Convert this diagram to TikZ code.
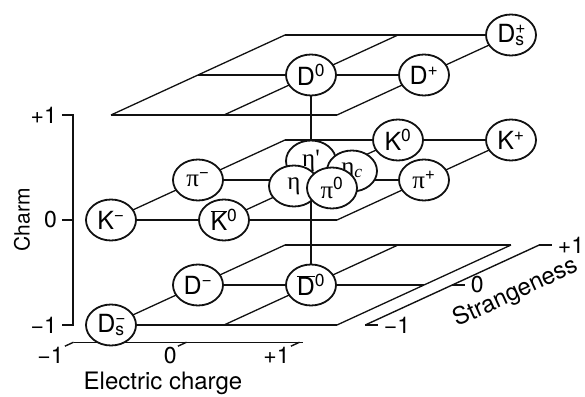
\documentclass[tikz,border=0pt]{standalone}
\usepackage{fontspec}
\setmainfont{TeX Gyre Heros}
\newfontfamily\greekfont{Liberation Serif}
\usepackage{tikz}
\usetikzlibrary{shapes.geometric,positioning,calc,backgrounds}
\definecolor{ink}{HTML}{111111}
\newcommand{\barred}[1]{$\overline{\mbox{#1}}$}
\newcommand{\gr}[1]{{\greekfont #1}}
\tikzset{
  meson/.style={draw=ink, ellipse, line width=1.8pt, fill=white, inner sep=0pt, minimum width=50pt, minimum height=41pt, font=\fontsize{25}{28}\selectfont},
  gridline/.style={draw=ink, line width=1.3pt},
  axisline/.style={draw=ink, line width=1.4pt},
  ticklabel/.style={font=\fontsize{23}{25}\selectfont, inner sep=1pt},
  axislabel/.style={font=\fontsize{24}{26}\selectfont}
}

\begin{document}
\begin{tikzpicture}[x={(113pt,0pt)}, y={(87pt,40pt)}, z={(0pt,105pt)}]
  \useasboundingbox (-311pt,-216pt) rectangle (274pt,180pt);

  % charm +1
  \node[meson] (dzero) at (0,0,1) {D\textsuperscript{0}};
  \node[meson] (dplus) at (1,0,1) {D\textsuperscript{+}};
  \node[meson] (dsplus) at (1,1,1) {D\rlap{\textsuperscript{+}}\textsubscript{s}};

  % charm 0
  \node[meson] (kminus) at (-1,-1,0) {K\textsuperscript{−}};
  \node[meson] (kzerobar) at (0,-1,0) {\barred{K}\textsuperscript{0}};
  \node[meson] (piminus) at (-1,0,0) {\gr{π}\textsuperscript{−}};
  \node[meson] (piplus) at (1,0,0) {\gr{π}\textsuperscript{+}};
  \node[meson] (kzero) at (0,1,0) {K\textsuperscript{0}};
  \node[meson] (kplus) at (1,1,0) {K\textsuperscript{+}};
  \node[meson] (etaprime) at (0pt,19pt) {\gr{η'}};
  \node[meson] (etac) at (41pt,9pt) {\gr{η\textsubscript{\itshape c}}};
  \node[meson] (eta) at (-17pt,-6pt) {\gr{η}};
  \node[meson] (pizero) at (21pt,-8pt) {\gr{π}\textsuperscript{0}};

  % charm -1
  \node[meson] (dsminus) at (-1,-1,-1) {D\rlap{\textsuperscript{−}}\textsubscript{s}};
  \node[meson] (dminus) at (-1,0,-1) {D\textsuperscript{−}};
  \node[meson] (dzerobar) at (0,0,-1) {\barred{D}\textsuperscript{0}};

  % axes
  \coordinate (ctop) at ($(-1,-1,1)+(-38pt,0pt)$);
  \coordinate (cmid) at ($(-1,-1,0)+(-38pt,0pt)$);
  \coordinate (cbot) at ($(-1,-1,-1)+(-38pt,0pt)$);
  \draw[axisline] ([xshift=-11pt]ctop) -- (ctop) -- (cbot) -- ([xshift=-11pt]cbot);
  \draw[axisline] ([xshift=-11pt]cmid) -- (cmid);
  \node[ticklabel, left=4pt] (cplusone) at ([xshift=-11pt]ctop) {+1};
  \node[ticklabel, left=4pt] (czero) at ([xshift=-11pt]cmid) {0};
  \node[ticklabel, left=4pt] (cminusone) at ([xshift=-11pt]cbot) {−1};
  \node[axislabel, font=\fontsize{21}{24}\selectfont, rotate=90] (charmlabel) at ($(cmid)+(-51pt,0pt)$) {Charm};

  \node[ticklabel, anchor=north east] (qminusone) at (-1,-1.53,-1) {−1};
  \node[ticklabel, anchor=north east] (qzero) at (0,-1.53,-1) {0};
  \node[ticklabel, anchor=north east] (qplusone) at (1,-1.53,-1) {+1};
  \node[axislabel] (chargelabel) at (-148pt,-203pt) {Electric charge};

  \draw[axisline] (1.25,-1,-1) -- (1.25,1,-1);
  \foreach \s in {-1,0,1}
    \draw[axisline] (1.25,\s,-1) -- (1.36,\s,-1);
  \node[ticklabel, anchor=west, xshift=5pt] (sminusone) at (1.36,-1,-1) {−1};
  \node[ticklabel, anchor=west, xshift=5pt] (szero) at (1.36,0,-1) {0};
  \node[ticklabel, anchor=west, xshift=5pt] (splusone) at (1.36,1,-1) {+1};
  \node[axislabel, rotate=24.7] (strangelabel) at (205pt,-113pt) {Strangeness};

  \begin{scope}[on background layer]
    % the three planes
    \foreach \c in {-1,0,1}
      \foreach \t in {-1,0,1} {
        \draw[gridline] (-1,\t,\c) -- (1,\t,\c);
        \draw[gridline] (\t,-1,\c) -- (\t,1,\c);
      }
    \draw[gridline] (dzero) -- (dzerobar);
    \draw[axisline] (-1,-1.43,-1) -- (1.03,-1.43,-1);
    \foreach \q in {-1,0,1}
      \draw[axisline] (\q,-1.43,-1) -- (\q,-1.53,-1);
  \end{scope}
\end{tikzpicture}
\end{document}
